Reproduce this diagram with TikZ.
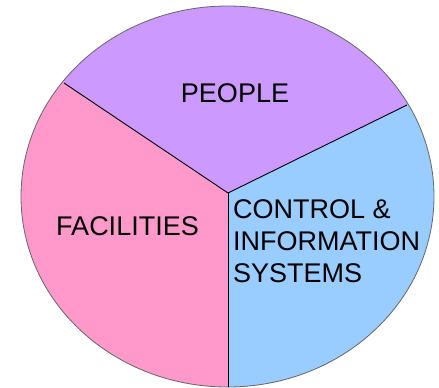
\documentclass[tikz,border=0pt]{standalone}
\usepackage{fontspec}
\setmainfont{Liberation Sans}
\definecolor{peoplecol}{HTML}{CC99FF}
\definecolor{facilcol}{HTML}{FF99CC}
\definecolor{ctrlcol}{HTML}{99CCFF}
\tikzset{
	label text/.style={font=\fontsize{27}{32}\selectfont, inner sep=0pt},
	divider/.style={line width=0.9pt, black}
}

\begin{document}
\begin{tikzpicture}[x=1pt, y=-1pt]
		\useasboundingbox (0,0) rectangle (439,388);
		\coordinate (hub) at (228,193);
		\coordinate (tl) at (64,83);
		\coordinate (tr) at (407,105);
		\coordinate (bt) at (228,387);

		\begin{scope}
			\clip (227.5,196.5) ellipse [x radius=206.5pt, y radius=190.5pt];
			\fill[peoplecol] (hub) -- (-100,-27) -- (-100,-200) -- (586,-200) -- (586,17) -- cycle;
			\fill[facilcol] (hub) -- (-100,-27) -- (-100,500) -- (228,500) -- cycle;
			\fill[ctrlcol] (hub) -- (586,17) -- (586,500) -- (228,500) -- cycle;
		\end{scope}
		\draw[gray!80!black, line width=0.8pt] (227.5,196.5) ellipse [x radius=206.5pt, y radius=190.5pt];

		\draw[divider] (hub) -- (tl);
		\draw[divider] (hub) -- (tr);
		\draw[divider] (hub) -- (bt);

		\node[label text] (people) at (235,93.5) {PEOPLE};
		\node[label text] (facil) at (127.5,226) {FACILITIES};
		\node[label text, anchor=north west, align=left] (ctrl) at (233,199)
			{CONTROL \&\\INFORMATION\\SYSTEMS};
	\end{tikzpicture}
\end{document}
